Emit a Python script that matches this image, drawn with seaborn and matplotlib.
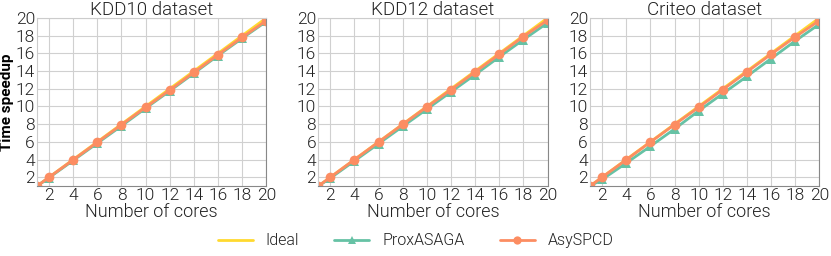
import matplotlib
matplotlib.use("Agg")
import matplotlib.pyplot as plt
import seaborn as sns
import pandas as pd

cores = [1, 2, 4, 6, 8, 10, 12, 14, 16, 18, 20]
titles = ["KDD10 dataset", "KDD12 dataset", "Criteo dataset"]
ideal = [1, 2, 4, 6, 8, 10, 12, 14, 16, 18, 20]
prox = {
    "KDD10 dataset": [1, 1.95, 3.9, 5.85, 7.8, 9.8, 11.75, 13.75, 15.75, 17.7, 19.6],
    "KDD12 dataset": [1, 1.9, 3.85, 5.8, 7.75, 9.7, 11.65, 13.6, 15.6, 17.55, 19.45],
    "Criteo dataset": [1, 1.75, 3.6, 5.5, 7.45, 9.5, 11.45, 13.4, 15.4, 17.4, 19.3],
}
asy = {
    "KDD10 dataset": [1, 2, 3.97, 5.95, 7.93, 9.9, 11.85, 13.85, 15.85, 17.8, 19.7],
    "KDD12 dataset": [1, 2, 4.0, 5.98, 7.98, 9.95, 11.9, 13.9, 15.9, 17.9, 19.75],
    "Criteo dataset": [1, 2, 3.97, 5.97, 7.95, 9.9, 11.9, 13.9, 15.9, 17.85, 19.7],
}

sns.set_theme(style="whitegrid")
plt.rcParams["font.family"] = ["Roboto", "DejaVu Sans"]

pal = sns.color_palette("Set2")
c_ideal, c_prox, c_asy = pal[5], pal[0], pal[1]
txt = "#222222"

fig = plt.figure(figsize=(8.31, 2.56), dpi=100)
lefts = [0.0445, 0.383, 0.71]
w = 0.276
handles = None
for i, t in enumerate(titles):
    ax = fig.add_axes([lefts[i], 0.273, w, 0.657])
    df = pd.DataFrame({"cores": cores, "ideal": ideal, "prox": prox[t], "asy": asy[t]})
    sns.lineplot(data=df, x="cores", y="ideal", ax=ax, color=c_ideal, lw=2, label="Ideal")
    sns.lineplot(data=df, x="cores", y="prox", ax=ax, color=c_prox, lw=2, marker="^",
                 markersize=7, markeredgewidth=0, label="ProxASAGA")
    sns.lineplot(data=df, x="cores", y="asy", ax=ax, color=c_asy, lw=2, marker="o",
                 markersize=7, markeredgewidth=0, label="AsySPCD")
    ax.set_xlim(1, 20)
    ax.set_ylim(1, 20)
    ax.set_xticks(range(2, 21, 2))
    ax.set_yticks(range(2, 21, 2))
    ax.tick_params(axis="both", labelsize=12.5, colors=txt, length=0)
    ax.tick_params(axis="y", pad=1.5)
    ax.tick_params(axis="x", pad=1)
    for lab in ax.get_xticklabels() + ax.get_yticklabels():
        lab.set_fontweight(300)
    ax.set_title(t, fontsize=13.5, pad=2, color=txt, fontweight=300)
    ax.set_xlabel("Number of cores", fontsize=13, labelpad=0, color=txt,
                  fontweight=300)
    if i == 0:
        ax.set_ylabel("Time speedup", fontsize=11, fontweight="bold", color="black")
        ax.yaxis.set_label_coords(-0.1, 0.5)
    else:
        ax.set_ylabel("")
    ax.grid(True, color="#d0d0d0", lw=0.8)
    for s in ax.spines.values():
        s.set_color("#cccccc")
        s.set_linewidth(0.8)
    ax.spines["right"].set_color("#888888")
    ax.spines["bottom"].set_color("#888888")
    handles, labels = ax.get_legend_handles_labels()
    ax.get_legend().remove()

leg = fig.legend(handles, labels, loc="center", bbox_to_anchor=(0.5, 0.06), ncol=3,
                 frameon=False, fontsize=11.5, handlelength=2.2, columnspacing=2.2,
                 handletextpad=0.8, labelcolor=txt, markerscale=0.85)
for tx in leg.get_texts():
    tx.set_fontweight(300)
fig.savefig("out.png", dpi=100)
